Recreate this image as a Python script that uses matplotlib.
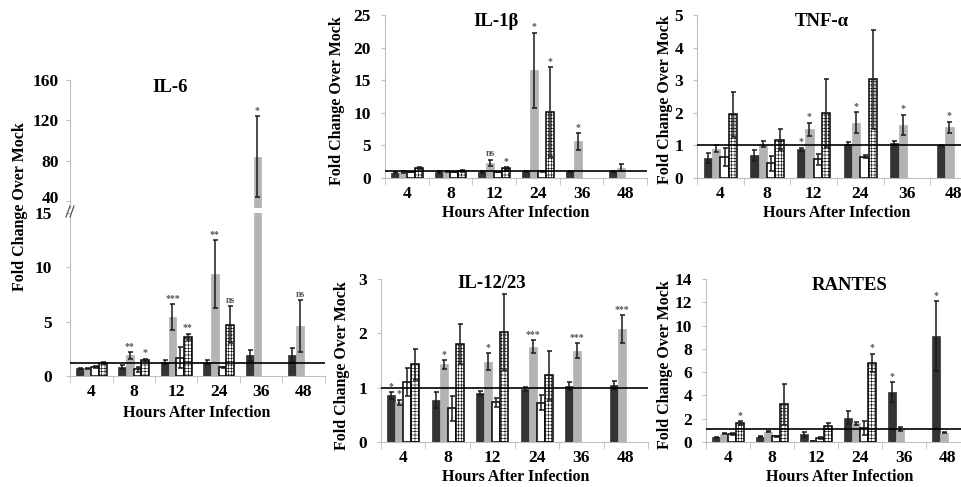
import numpy as np
import matplotlib
matplotlib.use('Agg')
import matplotlib.pyplot as plt
from matplotlib.lines import Line2D
from matplotlib.transforms import ScaledTranslation

plt.rcParams['font.family'] = 'Liberation Serif'
plt.rcParams['font.weight'] = 'bold'
plt.rcParams['hatch.linewidth'] = 0.4

W, H = 962, 487
nan = np.nan

horas = ['4', '8', '12', '24', '36', '48']

# IL-6
il6_dark = [0.7, 0.85, 1.3, 1.3, 1.9, 1.9]
il6_dark_err = [0.08, 0.2, 0.15, 0.15, 0.5, 0.65]
il6_gray = [0.7, 1.9, 5.4, 9.4, 84, 4.6]
il6_gray_err = [0.05, 0.3, 1.2, 3.1, 40, 2.4]
il6_white = [0.85, 0.6, 1.7, 0.8, nan, nan]
il6_white_err = [0.1, 0.2, 1.0, 0.05, nan, nan]
il6_hatch = [1.2, 1.5, 3.6, 4.7, nan, nan]
il6_hatch_err = [0.1, 0.1, 0.3, 1.7, nan, nan]
il6_sig_gray = ['', '**', '***', '**', '*', 'ns']
il6_sig_hatch = ['', '*', '**', 'ns', '', '']

# IL-1b
il1b_dark = [0.8, 0.9, 0.9, 1.0, 1.0, 1.0]
il1b_dark_err = [0.1, 0.1, 0.1, 0.1, 0.1, 0.1]
il1b_gray = [0.9, 1.0, 2.3, 16.5, 5.6, 1.6]
il1b_gray_err = [0.1, 0.1, 0.5, 5.8, 1.3, 0.5]
il1b_white = [0.9, 0.9, 0.9, 1.0, nan, nan]
il1b_white_err = [0.05, 0.05, 0.05, 0.05, nan, nan]
il1b_hatch = [1.5, 1.1, 1.5, 10.1, nan, nan]
il1b_hatch_err = [0.15, 0.15, 0.2, 6.9, nan, nan]
il1b_sig_gray = ['', '', 'ns', '*', '*', '']
il1b_sig_hatch = ['', '', '*', '*', '', '']

# TNF-a
tnf_dark = [0.62, 0.7, 0.88, 1.05, 1.07, 1.0]
tnf_dark_err = [0.15, 0.17, 0.05, 0.05, 0.06, 0.02]
tnf_gray = [0.9, 1.03, 1.5, 1.7, 1.63, 1.55]
tnf_gray_err = [0.1, 0.09, 0.2, 0.31, 0.31, 0.18]
tnf_white = [0.65, 0.45, 0.57, 0.65, nan, nan]
tnf_white_err = [0.27, 0.23, 0.17, 0.05, nan, nan]
tnf_hatch = [1.95, 1.17, 2.0, 3.03, nan, nan]
tnf_hatch_err = [0.7, 0.32, 1.05, 1.52, nan, nan]
tnf_sig_dark = ['', '', '*', '', '', '']
tnf_sig_gray = ['', '', '*', '*', '*', '*']

# IL-12/23
il12_dark = [0.86, 0.77, 0.9, 0.97, 1.03, 1.05]
il12_dark_err = [0.06, 0.15, 0.04, 0.035, 0.07, 0.07]
il12_gray = [0.73, 1.43, 1.48, 1.75, 1.68, 2.08]
il12_gray_err = [0.05, 0.08, 0.15, 0.12, 0.14, 0.25]
il12_white = [1.1, 0.62, 0.73, 0.72, nan, nan]
il12_white_err = [0.26, 0.23, 0.08, 0.14, nan, nan]
il12_hatch = [1.43, 1.8, 2.03, 1.23, nan, nan]
il12_hatch_err = [0.28, 0.37, 0.7, 0.45, nan, nan]
il12_sig_dark = ['*', '', '', '', '', '']
il12_sig_gray = ['*', '*', '*', '***', '***', '***']

# RANTES
rantes_dark = [0.4, 0.45, 0.65, 2.1, 4.3, 9.1]
rantes_dark_err = [0.05, 0.05, 0.25, 0.55, 0.85, 3.0]
rantes_gray = [0.7, 0.9, 0.1, 1.6, 1.1, 0.8]
rantes_gray_err = [0.05, 0.05, 0.02, 0.15, 0.15, 0.05]
rantes_white = [0.7, 0.5, 0.35, 1.2, nan, nan]
rantes_white_err = [0.1, 0.05, 0.05, 0.6, nan, nan]
rantes_hatch = [1.65, 3.25, 1.4, 6.8, nan, nan]
rantes_hatch_err = [0.15, 1.75, 0.25, 0.8, nan, nan]
rantes_sig_dark = ['', '', '', '', '*', '*']
rantes_sig_hatch = ['*', '', '', '*', '', '']

fig = plt.figure(figsize=(W / 100, H / 100), dpi=100)


def eixo(x0, y0, x1, y1):
    # caixa em pixels (esquerda, topo, direita, base)
    return fig.add_axes([x0 / W, 1 - y1 / H, (x1 - x0) / W, (y1 - y0) / H])


def texto(x, y, s, size, rot=0):
    fig.text(x / W, 1 - y / H, s, ha='center', va='center', fontsize=size,
             fontweight='bold', rotation=rot)


BW = 0.18
ESTILOS = [
    dict(color='#333333', edgecolor='#333333', linewidth=0.5),
    dict(color='#b3b3b3', edgecolor='#b3b3b3', linewidth=0.5),
    dict(color='white', edgecolor='black', linewidth=1.1),
    dict(color='white', edgecolor='black', linewidth=1.1, hatch='+++++'),
]


def barras(ax, series, erros, sigs, ref, yticks, ylim, xaxis=True, pad_y=7):
    x = np.arange(len(horas))
    for k, (vals, errs) in enumerate(zip(series, erros)):
        pos = x + (k - 1.5) * BW
        ax.bar(pos, vals, BW, zorder=2, **ESTILOS[k])
        ax.errorbar(pos, vals, yerr=errs, fmt='none', ecolor='#1a1a1a',
                    elinewidth=1.1, capsize=1.8, capthick=1.1, zorder=3)
        if k in sigs:
            for i, s in enumerate(sigs[k]):
                topo = vals[i] + errs[i]
                if s and ylim[0] <= topo <= ylim[1]:
                    ax.annotate(s, (pos[i], topo), xytext=(0, 1),
                                textcoords='offset points', ha='center',
                                va='bottom', fontsize=7, color='#555555')
    ax.axhline(ref, color='black', lw=1.2, zorder=4)
    ax.set_xlim(-0.5, len(horas) - 0.5)
    ax.set_ylim(*ylim)
    ax.set_yticks(yticks)
    ax.set_yticklabels([str(t) for t in yticks], fontsize=12.5)
    ax.tick_params(axis='y', length=3, color='#bfbfbf', pad=pad_y)
    for lado in ['top', 'right']:
        ax.spines[lado].set_visible(False)
    ax.spines['left'].set_color('#bfbfbf')
    ax.spines['bottom'].set_color('#bfbfbf')
    if xaxis:
        ax.set_xticks(x)
        ax.set_xticklabels(horas, fontsize=12.5)
        ax.set_xticks(np.arange(len(horas) + 1) - 0.5, minor=True)
        ax.tick_params(axis='x', which='major', length=0, pad=6)
        ax.tick_params(axis='x', which='minor', length=5, color='#bfbfbf')
    else:
        ax.set_xticks([])
        ax.spines['bottom'].set_visible(False)


# IL-6 com eixo partido
ax6a = eixo(70, 80, 325, 208)
ax6b = eixo(70, 213, 325, 376)
il6 = [il6_dark, il6_gray, il6_white, il6_hatch]
il6e = [il6_dark_err, il6_gray_err, il6_white_err, il6_hatch_err]
barras(ax6a, il6, il6e, {1: il6_sig_gray, 3: il6_sig_hatch}, 1.2,
       [40, 80, 120, 160], (33, 160), xaxis=False, pad_y=5)
ax6a.lines[-1].set_visible(False)
barras(ax6b, il6, il6e, {1: il6_sig_gray, 3: il6_sig_hatch}, 1.2,
       [0, 5, 10, 15], (0, 15), pad_y=10)
# afastar um pouco o "40" do "15"
lab40 = ax6a.get_yticklabels()[0]
lab40.set_transform(lab40.get_transform() + ScaledTranslation(0, 2.5 / 72, fig.dpi_scale_trans))
for dx in (0, 4):
    fig.add_artist(Line2D([(66 + dx) / W, (70 + dx) / W],
                          [1 - 217 / H, 1 - 206 / H], color='#555555', lw=0.9))
texto(170, 87, 'IL-6', 13.5)
texto(20, 207, 'Fold Change Over Mock', 11.5, 90)
texto(197, 413, 'Hours After Infection', 11.5)

# IL-1b
ax1 = eixo(385, 15, 647, 178)
barras(ax1, [il1b_dark, il1b_gray, il1b_white, il1b_hatch],
       [il1b_dark_err, il1b_gray_err, il1b_white_err, il1b_hatch_err],
       {1: il1b_sig_gray, 3: il1b_sig_hatch}, 1.0, [0, 5, 10, 15, 20, 25], (0, 25))
texto(496, 22, 'IL-1β', 13.5)
texto(337, 101, 'Fold Change Over Mock', 11.5, 90)
texto(516, 213, 'Hours After Infection', 11.5)

# TNF-a
ax2 = eixo(697, 15, 977, 178)
barras(ax2, [tnf_dark, tnf_gray, tnf_white, tnf_hatch],
       [tnf_dark_err, tnf_gray_err, tnf_white_err, tnf_hatch_err],
       {0: tnf_sig_dark, 1: tnf_sig_gray}, 1.0, [0, 1, 2, 3, 4, 5], (0, 5))
texto(822, 22, 'TNF-α', 13.5)
texto(665, 100, 'Fold Change Over Mock', 11.5, 90)
texto(837, 213, 'Hours After Infection', 11.5)

# IL-12/23
ax3 = eixo(381, 279, 648, 442)
barras(ax3, [il12_dark, il12_gray, il12_white, il12_hatch],
       [il12_dark_err, il12_gray_err, il12_white_err, il12_hatch_err],
       {0: il12_sig_dark, 1: il12_sig_gray}, 1.0, [0, 1, 2, 3], (0, 3))
texto(492, 283, 'IL-12/23', 13.5)
texto(342, 366, 'Fold Change Over Mock', 11.5, 90)
texto(516, 477, 'Hours After Infection', 11.5)

# RANTES
ax4 = eixo(706, 279, 970, 442)
barras(ax4, [rantes_dark, rantes_gray, rantes_white, rantes_hatch],
       [rantes_dark_err, rantes_gray_err, rantes_white_err, rantes_hatch_err],
       {0: rantes_sig_dark, 3: rantes_sig_hatch}, 1.1,
       [0, 2, 4, 6, 8, 10, 12, 14], (0, 14))
texto(850, 285, 'RANTES', 13.5)
texto(665, 365, 'Fold Change Over Mock', 11.5, 90)
texto(840, 477, 'Hours After Infection', 11.5)

fig.savefig('out.png', dpi=100)
